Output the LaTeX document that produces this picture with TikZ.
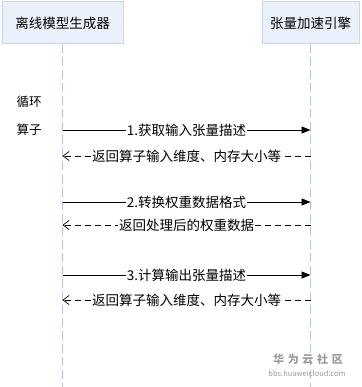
\documentclass[tikz,border=0pt]{standalone}
\usepackage{fontspec}
\setmainfont{Noto Sans CJK SC}
\usetikzlibrary{arrows.meta}
\definecolor{boxfill}{HTML}{EAF1FB}
\definecolor{boxline}{HTML}{C9D5E8}
\definecolor{lifeline}{HTML}{B7C3DB}
\definecolor{wmark}{HTML}{9A9A9A}
\begin{document}
\begin{tikzpicture}[x=1pt,y=-1pt,
  actor/.style={draw=boxline,fill=boxfill,line width=1pt,minimum height=42pt,inner sep=0pt,font=\fontsize{13.5pt}{15pt}\selectfont},
  life/.style={draw=lifeline,line width=1pt,dash pattern=on 9pt off 4pt},
  callmsg/.style={draw=black,line width=0.8pt,-{Triangle[length=9pt,width=7pt]}},
  retmsg/.style={draw=black,line width=0.7pt,dash pattern=on 6pt off 4pt,-{Straight Barb[length=6pt,width=9pt]}},
  msglabel/.style={fill=white,inner sep=1pt,font=\fontsize{13.5pt}{15pt}\selectfont},
  note/.style={font=\fontsize{12.5pt}{14pt}\selectfont,inner sep=0pt}]
\useasboundingbox (0,0) rectangle (361,387);
\node[actor,minimum width=121pt] (gen) at (62.5,23) {离线模型生成器};
\node[actor,minimum width=97pt] (eng) at (310.5,23) {张量加速引擎};
\coordinate (genend) at (62.5,387);
\coordinate (engend) at (310.5,387);
\draw[life] (gen.south) -- (genend);
\draw[life] (eng.south) -- (engend);
\node[note] (loop) at (29,102) {循环};
\node[note] (op) at (29,130) {算子};
% message 1
\coordinate (l1) at (62.5,130); \coordinate (r1) at (310.5,130);
\coordinate (l2) at (62.5,156); \coordinate (r2) at (310.5,156);
\coordinate (l3) at (62.5,202); \coordinate (r3) at (310.5,202);
\coordinate (l4) at (62.5,225); \coordinate (r4) at (310.5,225);
\coordinate (l5) at (62.5,275); \coordinate (r5) at (310.5,275);
\coordinate (l6) at (62.5,300); \coordinate (r6) at (310.5,300);
\draw[callmsg] (l1) -- node[msglabel] (m1) {1.获取输入张量描述} (r1);
\draw[retmsg] (r2) -- node[msglabel] (m2) {返回算子输入维度、内存大小等} (l2);
\draw[callmsg] (l3) -- node[msglabel] (m3) {2.转换权重数据格式} (r3);
\draw[retmsg] (r4) -- node[msglabel] (m4) {返回处理后的权重数据} (l4);
\draw[callmsg] (l5) -- node[msglabel] (m5) {3.计算输出张量描述} (r5);
\draw[retmsg] (r6) -- node[msglabel] (m6) {返回算子输入维度、内存大小等} (l6);
% watermark
\node[text=wmark,font=\fontsize{11pt}{12pt}\selectfont\bfseries,inner sep=0pt] (wm1) at (308,359) {华\,\,为\,\,云\,\,社\,\,区};
\node[text=wmark,font=\fontsize{7.5pt}{9pt}\selectfont,inner sep=0pt] (wm2) at (307,374) {bbs.huaweicloud.com};
\end{tikzpicture}
\end{document}
